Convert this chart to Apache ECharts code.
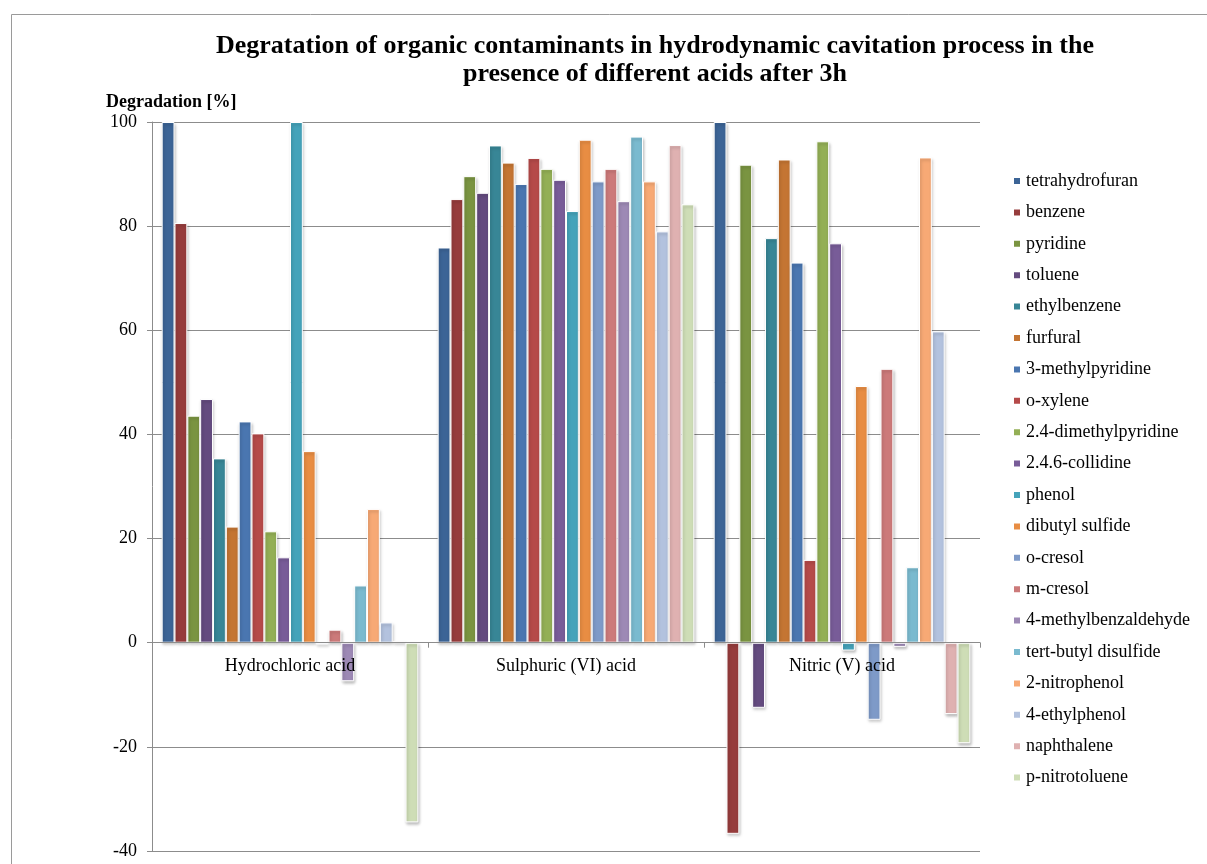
<!DOCTYPE html>
<html>
<head>
<meta charset="utf-8">
<script src="https://cdn.jsdelivr.net/npm/echarts@6/dist/echarts.min.js"></script>
<style>
html,body{margin:0;padding:0;background:#fff;}
#chart{width:1207px;height:864px;}
</style>
</head>
<body>
<div id="chart"></div>
<script>
const categories = ['Hydrochloric acid', 'Sulphuric (VI) acid', 'Nitric (V) acid'];
const seriesNames = ['tetrahydrofuran','benzene','pyridine','toluene','ethylbenzene','furfural','3-methylpyridine','o-xylene','2.4-dimethylpyridine','2.4.6-collidine','phenol','dibutyl sulfide','o-cresol','m-cresol','4-methylbenzaldehyde','tert-butyl disulfide','2-nitrophenol','4-ethylphenol','naphthalene','p-nitrotoluene'];
const hydrochloric = [100, 80.6, 43.6, 46.8, 35.4, 22.3, 42.5, 40.2, 21.4, 16.4, 100, 36.8, -0.3, 2.5, -7.4, 11.0, 25.7, 3.9, 0.3, -34.5];
const sulphuric = [75.9, 85.2, 89.6, 86.4, 95.5, 92.2, 88.1, 93.1, 91.0, 88.9, 82.9, 96.6, 88.6, 91.0, 84.8, 97.2, 88.6, 79.0, 95.6, 84.2];
const nitric = [100, -36.7, 91.8, -12.5, 77.7, 92.8, 73.0, 15.9, 96.3, 76.7, -1.5, 49.3, -14.8, 52.6, -0.8, 14.5, 93.2, 59.8, -13.7, -19.3];
const yTicks = {min: -40, max: 100, interval: 20};
const colors = ['#3C6496','#963C3C','#7A9441','#644B7F','#388696','#C47533','#4A76B0','#B54A49','#93AF55','#785C98','#45A3BA','#E88D43','#7E9AC8','#CC7A7A','#9D89B5','#7ABACF','#F7A975','#B3C2DE','#DFB1B1','#CEDDB6'];

const font = '"Liberation Serif", "Times New Roman", serif';
const W = 1207, H = 864;
const gridTop = 122, gridBottom = 13;
// place the category axis on the zero line
const zeroOffset = -(H - gridTop - gridBottom) * (0 - yTicks.min) / (yTicks.max - yTicks.min);

const chart = echarts.init(document.getElementById('chart'));
const series = seriesNames.map((n, i) => ({
  name: n,
  type: 'bar',
  data: [hydrochloric[i], sulphuric[i], nitric[i]],
  barGap: '0%',
  barCategoryGap: '7%',
  itemStyle: {
    color: colors[i],
    borderColor: '#ffffff',
    borderWidth: 1,
    shadowColor: 'rgba(0,0,0,0.25)',
    shadowBlur: 3,
    shadowOffsetX: 1,
    shadowOffsetY: 2
  },
  emphasis: {disabled: true},
  animation: false
}));

chart.setOption({
  animation: false,
  color: colors,
  title: {
    text: 'Degratation of organic contaminants in hydrodynamic cavitation process in the\npresence of different acids after 3h',
    left: 650,
    top: 27,
    textAlign: 'center',
    textStyle: {fontFamily: font, fontWeight: 'bold', fontSize: 26, lineHeight: 28, color: '#000'}
  },
  graphic: [
    {type: 'rect', left: 9, top: 12, shape: {width: 1220, height: 880}, style: {fill: 'none', stroke: '#9a9a9a', lineWidth: 1}, silent: true},
    {type: 'text', left: 106, top: 93, style: {text: 'Degradation [%]', font: 'bold 18px ' + font, fill: '#000'}, silent: true}
  ],
  legend: {
    orient: 'vertical',
    left: 1007,
    top: 167,
    itemWidth: 8,
    itemHeight: 8,
    itemGap: 13.4,
    icon: 'rect',
    textStyle: {fontFamily: font, fontSize: 18, lineHeight: 16, color: '#000'},
    data: seriesNames
  },
  grid: {left: 152, right: 227, top: gridTop, bottom: gridBottom, containLabel: false, outerBoundsMode: 'none'},
  xAxis: {
    type: 'category',
    data: categories,
    position: 'bottom',
    offset: zeroOffset,
    z: 10,
    axisLine: {onZero: false, lineStyle: {color: '#8c8c8c', width: 1}},
    axisTick: {show: true, length: 5, lineStyle: {color: '#8c8c8c'}},
    axisLabel: {fontFamily: font, fontSize: 18, color: '#000', margin: 15}
  },
  yAxis: {
    type: 'value',
    min: yTicks.min,
    max: yTicks.max,
    interval: yTicks.interval,
    axisLine: {show: true, lineStyle: {color: '#8c8c8c', width: 1}},
    axisTick: {show: true, length: 5, lineStyle: {color: '#8c8c8c'}},
    axisLabel: {fontFamily: font, fontSize: 18, color: '#000', margin: 15},
    splitLine: {show: true, lineStyle: {color: '#8c8c8c', width: 1}}
  },
  series: series
});
</script>
</body>
</html>
